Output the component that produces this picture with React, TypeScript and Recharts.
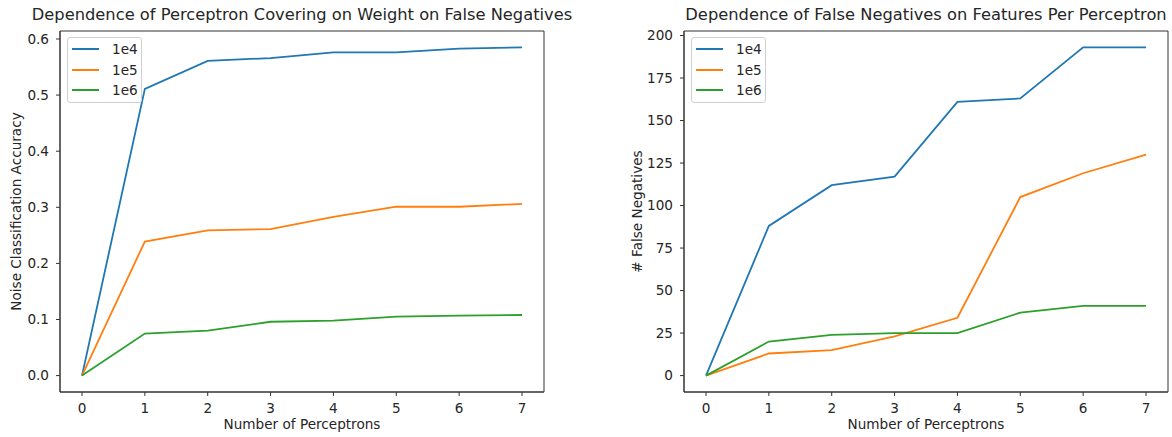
import React from 'react';
import { LineChart, Line, XAxis, YAxis, Legend, ReferenceArea } from 'recharts';

const perceptrons = [0, 1, 2, 3, 4, 5, 6, 7];
const seriesNames = ['1e4', '1e5', '1e6'];
const colors = ['#1f77b4', '#ff7f0e', '#2ca02c'];

// left panel: noise classification accuracy
const acc1e4 = [0, 0.511, 0.561, 0.566, 0.576, 0.576, 0.583, 0.585];
const acc1e5 = [0, 0.239, 0.259, 0.261, 0.283, 0.301, 0.301, 0.306];
const acc1e6 = [0, 0.075, 0.08, 0.096, 0.098, 0.105, 0.107, 0.108];
const accTicks = [0, 0.1, 0.2, 0.3, 0.4, 0.5, 0.6];

// right panel: false negatives
const fn1e4 = [0, 88, 112, 117, 161, 163, 193, 193];
const fn1e5 = [0, 13, 15, 23, 34, 105, 119, 130];
const fn1e6 = [0, 20, 24, 25, 25, 37, 41, 41];
const fnTicks = [0, 25, 50, 75, 100, 125, 150, 175, 200];

const FONT = '"DejaVu Sans", sans-serif';
const TXT = '#262626';
const tickStyle = { fontSize: 13.6, fill: TXT, fontFamily: FONT };
const X_DOMAIN: [number, number] = [-0.35, 7.35];

const toRows = (a: number[], b: number[], c: number[]) =>
  perceptrons.map((x, i) => ({ x, s0: a[i], s1: b[i], s2: c[i] }));

const accData = toRows(acc1e4, acc1e5, acc1e6);
const fnData = toRows(fn1e4, fn1e5, fn1e6);

function LegendBox({ payload }: any) {
  return (
    <div
      style={{
        width: 73,
        height: 64,
        border: '1px solid #d0d0d0',
        borderRadius: 3,
        background: 'rgba(255,255,255,0.8)',
        fontFamily: FONT,
        fontSize: 13.6,
        color: TXT,
        position: 'relative',
      }}
    >
      {(payload || []).map((p: any, i: number) => (
        <div key={p.value} style={{ position: 'absolute', left: 4, top: 3 + i * 20.5, height: 16, display: 'flex', alignItems: 'center' }}>
          <div style={{ width: 27, height: 2, background: p.color }} />
          <span style={{ marginLeft: 13, lineHeight: '16px' }}>{p.value}</span>
        </div>
      ))}
    </div>
  );
}

interface PanelProps {
  data: any[];
  width: number;
  rightPad: number;
  yWidth: number;
  yDomain: [number, number];
  yTicks: number[];
  yFmt: (v: number) => string;
  yLabel: string;
  yLabelOffset: number;
}

function Panel({ data, width, rightPad, yWidth, yDomain, yTicks, yFmt, yLabel, yLabelOffset }: PanelProps) {
  return (
    <LineChart width={width} height={437} data={data} margin={{ top: 31, right: rightPad, bottom: 0, left: 0 }}>
      <XAxis
        xAxisId="b"
        type="number"
        dataKey="x"
        domain={X_DOMAIN}
        ticks={perceptrons}
        allowDataOverflow
        height={45}
        stroke="#333"
        tickSize={4}
        tickMargin={7}
        tick={tickStyle}
        tickLine={{ stroke: '#333' }}
        label={{ value: 'Number of Perceptrons', position: 'insideBottom', offset: 8, style: { ...tickStyle } }}
      />
      <YAxis
        yAxisId="l"
        type="number"
        domain={yDomain}
        ticks={yTicks}
        allowDataOverflow
        width={yWidth}
        stroke="#333"
        tickSize={4}
        tickMargin={7}
        tick={tickStyle}
        tickFormatter={yFmt}
        label={{ value: yLabel, angle: -90, position: 'insideLeft', offset: yLabelOffset, style: { ...tickStyle, textAnchor: 'middle' } }}
      />
      {/* full frame like matplotlib spines */}
      <ReferenceArea
        xAxisId="b"
        yAxisId="l"
        x1={X_DOMAIN[0]}
        x2={X_DOMAIN[1]}
        y1={yDomain[0]}
        y2={yDomain[1]}
        fill="none"
        fillOpacity={0}
        stroke="#333"
        strokeWidth={1}
        ifOverflow="visible"
      />
      <Legend
        layout="vertical"
        align="center"
        verticalAlign="middle"
        content={<LegendBox />}
        wrapperStyle={{ left: yWidth + 7, top: 37, width: 75, height: 66 }}
      />
      {[0, 1, 2].map((i) => (
        <Line
          key={i}
          xAxisId="b"
          yAxisId="l"
          type="linear"
          dataKey={`s${i}`}
          name={seriesNames[i]}
          stroke={colors[i]}
          strokeWidth={1.8}
          dot={false}
          activeDot={false}
          isAnimationActive={false}
        />
      ))}
    </LineChart>
  );
}

const titleStyle: React.CSSProperties = {
  position: 'absolute',
  top: 5,
  fontFamily: FONT,
  fontSize: 16.3,
  color: TXT,
  whiteSpace: 'nowrap',
  transform: 'translateX(-50%)',
};

export default function App() {
  return (
    <div style={{ position: 'absolute', left: 0, top: 0, width: 1172, height: 437, background: '#fff' }}>
      <div style={{ position: 'absolute', left: 0, top: 0 }}>
        <Panel
          data={accData}
          width={600}
          rightPad={56}
          yWidth={60}
          yDomain={[-0.02925, 0.61425]}
          yTicks={accTicks}
          yFmt={(v) => v.toFixed(1)}
          yLabel="Noise Classification Accuracy"
          yLabelOffset={16}
        />
      </div>
      <div style={{ position: 'absolute', left: 600, top: 0 }}>
        <Panel
          data={fnData}
          width={572}
          rightPad={4}
          yWidth={84}
          yDomain={[-9.65, 202.65]}
          yTicks={fnTicks}
          yFmt={(v) => String(v)}
          yLabel="# False Negatives"
          yLabelOffset={37}
        />
      </div>
      <div style={{ ...titleStyle, left: 302 }}>Dependence of Perceptron Covering on Weight on False Negatives</div>
      <div style={{ ...titleStyle, left: 926 }}>Dependence of False Negatives on Features Per Perceptron</div>
    </div>
  );
}
